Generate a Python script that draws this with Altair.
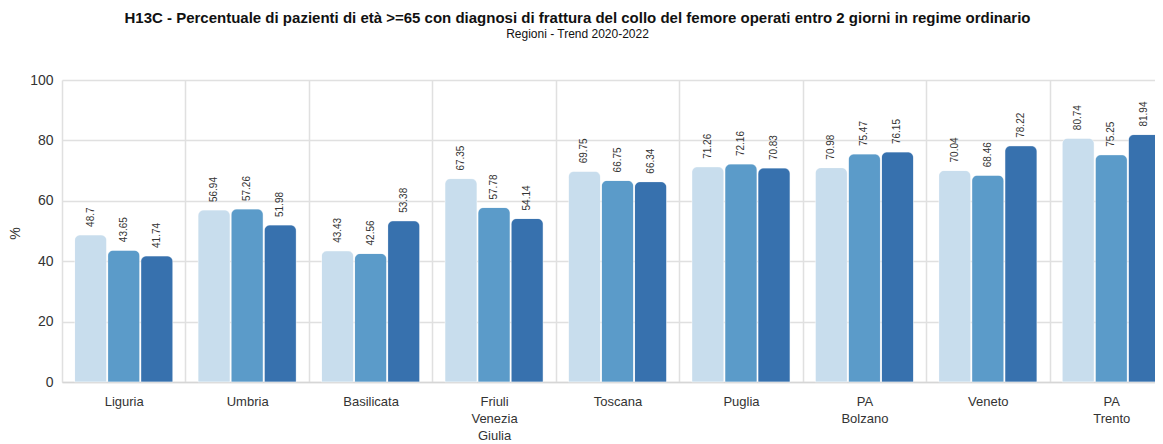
import altair as alt
import pandas as pd

regions = ["Liguria", "Umbria", "Basilicata", "Friuli Venezia Giulia", "Toscana",
           "Puglia", "PA Bolzano", "Veneto", "PA Trento"]
years = ["2020", "2021", "2022"]
v2020 = [48.7, 56.94, 43.43, 67.35, 69.75, 71.26, 70.98, 70.04, 80.74]
v2021 = [43.65, 57.26, 42.56, 57.78, 66.75, 72.16, 75.47, 68.46, 75.25]
v2022 = [41.74, 51.98, 53.38, 54.14, 66.34, 70.83, 76.15, 78.22, 81.94]
colors = ["#c8dded", "#5b9bc9", "#3771ae"]
y_ticks = [0, 20, 40, 60, 80, 100]

rows = []
for i, r in enumerate(regions):
    for y, vals in zip(years, [v2020, v2021, v2022]):
        rows.append({"region": r, "year": y, "value": vals[i]})
df = pd.DataFrame(rows)

FONT = "Liberation Sans"

x_enc = alt.X(
    "region:N", sort=regions,
    scale=alt.Scale(paddingInner=0, paddingOuter=0),
    axis=alt.Axis(
        title=None, labelAngle=0, tickBand="extent", grid=True,
        gridColor="#e0e0e0", gridWidth=1.5, ticks=False,
        domain=True, domainColor="#d6d6d6", domainWidth=1.5,
        labelExpr="split(datum.label, ' ')", labelFont=FONT,
        labelFontSize=13, labelColor="#333333", labelPadding=13,
        labelLineHeight=17, labelBaseline="top",
    ),
)
xoff = alt.XOffset("year:N", sort=years,
                   scale=alt.Scale(paddingInner=0.03, paddingOuter=0.38))
y_enc = alt.Y(
    "value:Q",
    scale=alt.Scale(domain=[0, 100], nice=False),
    axis=alt.Axis(
        values=y_ticks, title="%", titleAngle=270, titleFont=FONT,
        titleFontSize=14, titleFontWeight="normal", titleColor="#333333",
        titleAlign="center", titleBaseline="middle",
        titleX=-47, titleY=153, gridColor="#e0e0e0", gridWidth=1.5,
        domain=False, ticks=False, labelFont=FONT, labelFontSize=14,
        labelColor="#333333", labelPadding=9,
    ),
)

bars = alt.Chart(df).mark_bar(
    cornerRadiusTopLeft=6, cornerRadiusTopRight=6,
    stroke="white", strokeWidth=0.6, strokeOpacity=0.6,
).encode(
    x=x_enc, xOffset=xoff, y=y_enc,
    color=alt.Color("year:N", sort=years,
                    scale=alt.Scale(domain=years, range=colors), legend=None),
)

labels = alt.Chart(df).mark_text(
    angle=270, align="left", baseline="middle", dx=8,
    font=FONT, fontSize=10, color="#333333",
).encode(
    x=alt.X("region:N", sort=regions), xOffset=alt.XOffset("year:N", sort=years),
    y="value:Q", text=alt.Text("value:Q"),
)

chart = alt.layer(bars, labels).properties(
    width=1111, height=302,
    title=alt.TitleParams(
        text="H13C - Percentuale di pazienti di età >=65 con diagnosi di frattura del collo del femore operati entro 2 giorni in regime ordinario",
        subtitle="Regioni - Trend 2020-2022",
        font=FONT, fontSize=15, fontWeight="bold", color="#111111",
        subtitleFont=FONT, subtitleFontSize=12, subtitleColor="#111111",
        subtitlePadding=3,
        anchor="middle", offset=33, dx=-40,
    ),
    autosize=alt.AutoSizeParams(type="none"),
    padding={"left": 54, "top": 72, "right": -18, "bottom": 62},
    background="white",
).configure_view(stroke=None)

chart.save("out.html", embed_options={"renderer": "svg", "actions": False})
